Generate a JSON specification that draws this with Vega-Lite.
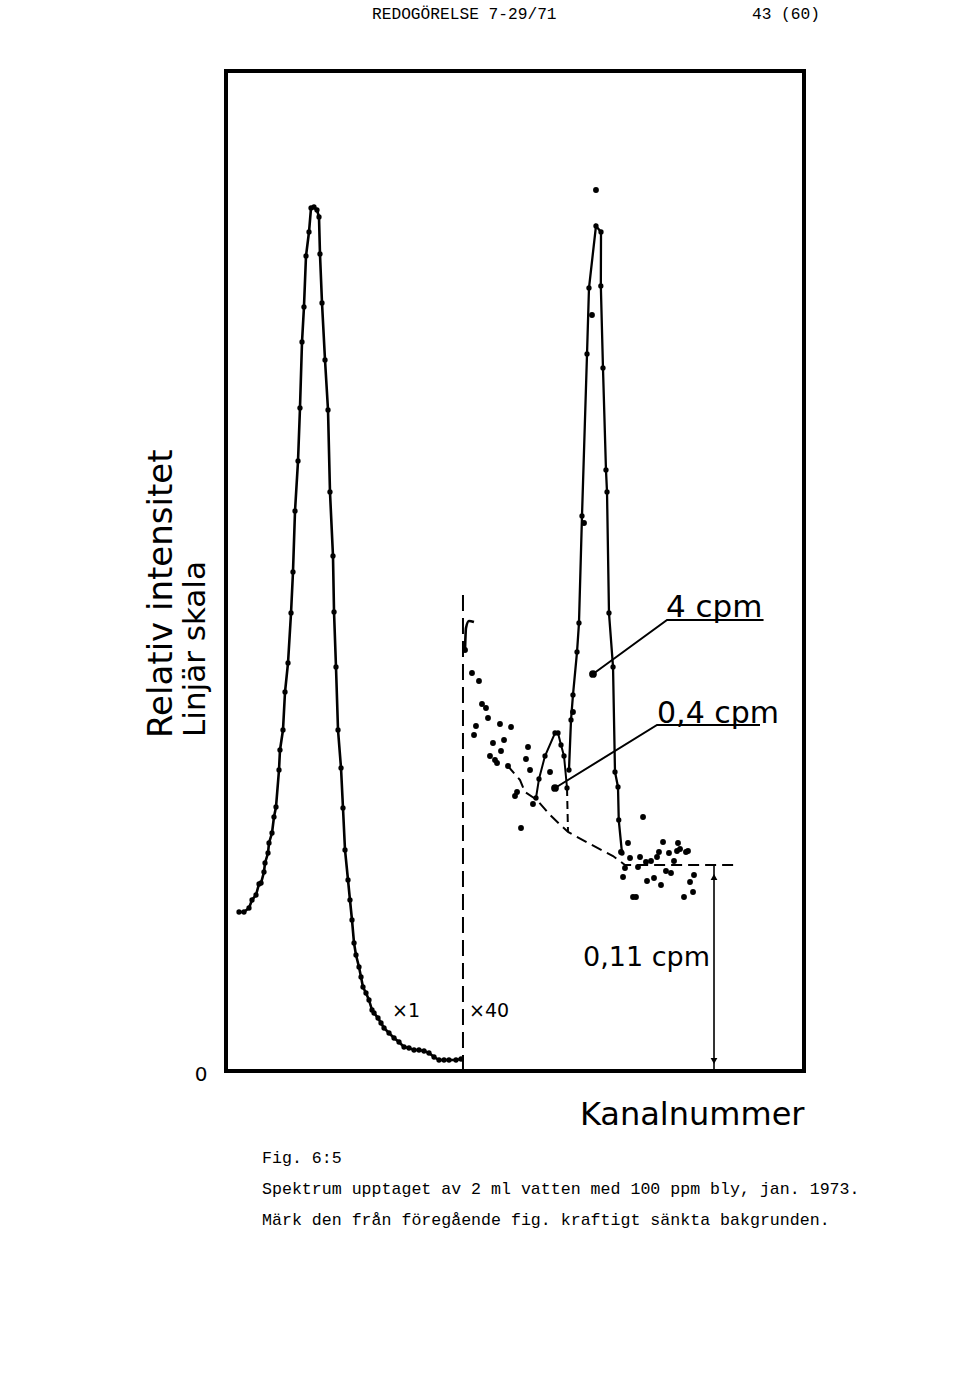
{
  "$schema": "https://vega.github.io/schema/vega-lite/v6.json",
  "autosize": "none",
  "width": 578,
  "height": 1000,
  "padding": {"left": 226, "top": 71, "right": 156, "bottom": 322},
  "background": "white",
  "view": {"stroke": "black", "strokeWidth": 4},
  "config": {"font": "DejaVu Sans"},
  "datasets": {
    "left": [
      {"i":1,"x":2.25,"y":15.9},{"i":2,"x":3.11,"y":15.9},{"i":3,"x":3.98,"y":16.3},{"i":4,"x":4.50,"y":17.1},
      {"i":5,"x":5.19,"y":17.6},{"i":6,"x":5.71,"y":18.7},{"i":7,"x":6.06,"y":18.8},{"i":8,"x":6.57,"y":19.9},
      {"i":9,"x":6.75,"y":20.8},{"i":10,"x":7.27,"y":21.8},{"i":11,"x":7.44,"y":22.8},{"i":12,"x":7.96,"y":23.8},
      {"i":13,"x":8.30,"y":25.4},{"i":14,"x":8.65,"y":26.4},{"i":15,"x":9.17,"y":30.1},{"i":16,"x":9.34,"y":32.1},
      {"i":17,"x":9.86,"y":34.1},{"i":18,"x":10.21,"y":37.9},{"i":19,"x":10.73,"y":40.8},{"i":20,"x":11.25,"y":45.8},
      {"i":21,"x":11.59,"y":49.9},{"i":22,"x":11.94,"y":56.0},{"i":23,"x":12.46,"y":61.0},{"i":24,"x":12.80,"y":66.3},
      {"i":25,"x":13.15,"y":72.9},{"i":26,"x":13.49,"y":76.4},{"i":27,"x":13.84,"y":81.5},{"i":28,"x":14.36,"y":83.9},
      {"i":29,"x":14.71,"y":86.3},{"i":30,"x":15.22,"y":86.4},{"i":31,"x":15.74,"y":86.1},{"i":32,"x":16.09,"y":85.4},
      {"i":33,"x":16.26,"y":81.7},{"i":34,"x":16.61,"y":76.8},{"i":35,"x":17.13,"y":71.1},{"i":36,"x":17.65,"y":66.1},
      {"i":37,"x":17.99,"y":57.9},{"i":38,"x":18.51,"y":51.5},{"i":39,"x":18.69,"y":45.9},{"i":40,"x":19.03,"y":40.4},
      {"i":41,"x":19.38,"y":34.1},{"i":42,"x":19.90,"y":30.3},{"i":43,"x":20.24,"y":26.3},{"i":44,"x":20.59,"y":22.1},
      {"i":45,"x":21.11,"y":19.1},{"i":46,"x":21.45,"y":17.1},{"i":47,"x":21.80,"y":15.1},{"i":48,"x":22.15,"y":12.8},
      {"i":49,"x":22.49,"y":11.6},{"i":50,"x":23.01,"y":10.4},{"i":51,"x":23.36,"y":9.4},{"i":52,"x":23.70,"y":8.4},
      {"i":53,"x":24.22,"y":7.8},{"i":54,"x":24.74,"y":7.1},{"i":55,"x":25.26,"y":6.1},{"i":56,"x":25.61,"y":5.8},
      {"i":57,"x":26.30,"y":5.3},{"i":58,"x":26.82,"y":4.8},{"i":59,"x":27.34,"y":4.3},{"i":60,"x":28.20,"y":3.8},
      {"i":61,"x":29.07,"y":3.3},{"i":62,"x":29.93,"y":2.9},{"i":63,"x":30.80,"y":2.4},{"i":64,"x":31.66,"y":2.3},
      {"i":65,"x":32.53,"y":2.1},{"i":66,"x":33.39,"y":2.1},{"i":67,"x":34.26,"y":2.0},{"i":68,"x":35.12,"y":1.8},
      {"i":69,"x":35.99,"y":1.4},{"i":70,"x":36.85,"y":1.1},{"i":71,"x":37.72,"y":1.1},{"i":72,"x":38.58,"y":1.1},
      {"i":73,"x":39.79,"y":1.1},{"i":74,"x":40.66,"y":1.2}
    ],
    "hook": [
      {"i":1,"x":41.35,"y":42.1},{"i":2,"x":41.52,"y":44.3},{"i":3,"x":42.04,"y":45.0},{"i":4,"x":42.9,"y":44.9}
    ],
    "rightpeak": [
      {"i":1,"x":59.34,"y":30.1},{"i":2,"x":59.69,"y":35.1},{"i":3,"x":60.03,"y":37.6},{"i":4,"x":60.73,"y":41.9},
      {"i":5,"x":61.07,"y":44.8},{"i":6,"x":61.59,"y":55.5},{"i":7,"x":62.46,"y":71.7},{"i":8,"x":62.80,"y":78.3},
      {"i":9,"x":64.01,"y":84.5},{"i":10,"x":64.88,"y":83.9},{"i":11,"x":64.85,"y":78.5},{"i":12,"x":65.22,"y":70.3},
      {"i":13,"x":65.74,"y":60.1},{"i":14,"x":65.92,"y":57.9},{"i":15,"x":66.26,"y":45.8},{"i":16,"x":66.96,"y":40.4},
      {"i":17,"x":67.3,"y":29.9},{"i":18,"x":67.82,"y":28.4},{"i":19,"x":67.95,"y":25.1},{"i":20,"x":68.51,"y":21.8}
    ],
    "smallpeak": [
      {"i":1,"x":53.63,"y":27.3},{"i":2,"x":54.15,"y":29.2},{"i":3,"x":55.19,"y":31.5},{"i":4,"x":56.92,"y":33.8},
      {"i":5,"x":57.44,"y":33.8},{"i":6,"x":57.96,"y":32.6},{"i":7,"x":58.48,"y":31.5},{"i":8,"x":59.0,"y":28.3}
    ],
    "scatter": [
      {"x":41.35,"y":42.1},{"x":42.56,"y":39.8},{"x":43.77,"y":39.0},{"x":44.29,"y":36.7},{"x":44.98,"y":36.3},
      {"x":45.33,"y":35.3},{"x":43.25,"y":34.5},{"x":42.91,"y":33.6},{"x":47.40,"y":34.7},{"x":49.31,"y":34.4},
      {"x":46.19,"y":32.8},{"x":48.10,"y":33.1},{"x":45.67,"y":31.5},{"x":47.58,"y":32.0},{"x":46.54,"y":31.1},
      {"x":46.89,"y":30.8},{"x":48.79,"y":30.5},{"x":52.25,"y":32.4},{"x":51.90,"y":31.2},{"x":52.60,"y":30.1},
      {"x":50.35,"y":27.9},{"x":50.00,"y":27.5},{"x":51.04,"y":24.3},{"x":53.11,"y":26.7},{"x":56.06,"y":29.9},
      {"x":63.32,"y":75.6},{"x":61.94,"y":54.8},{"x":60.03,"y":35.9},{"x":64.01,"y":88.1},{"x":72.15,"y":25.4},
      {"x":69.55,"y":22.8},{"x":68.34,"y":21.9},{"x":69.90,"y":21.3},{"x":71.63,"y":21.4},{"x":75.61,"y":22.9},
      {"x":78.20,"y":22.8},{"x":74.91,"y":21.9},{"x":76.64,"y":21.8},{"x":78.03,"y":22.0},{"x":78.55,"y":22.2},
      {"x":79.58,"y":21.9},{"x":79.93,"y":22.0},{"x":74.57,"y":21.4},{"x":72.66,"y":20.9},{"x":73.53,"y":21.0},
      {"x":71.28,"y":20.4},{"x":77.51,"y":21.0},{"x":69.03,"y":20.3},{"x":68.69,"y":19.4},{"x":72.84,"y":19.0},
      {"x":74.05,"y":19.3},{"x":75.26,"y":18.6},{"x":76.12,"y":20.0},{"x":76.99,"y":19.8},{"x":80.28,"y":18.9},
      {"x":80.97,"y":19.6},{"x":80.80,"y":17.9},{"x":79.24,"y":17.4},{"x":70.42,"y":17.4},{"x":70.93,"y":17.4}
    ],
    "background": [
      {"i":1,"x":48.62,"y":30.6},{"i":2,"x":50.87,"y":29.1},{"i":3,"x":51.73,"y":27.9},{"i":4,"x":53.81,"y":27.1},
      {"i":5,"x":56.06,"y":25.6},{"i":6,"x":59.17,"y":23.9},{"i":7,"x":62.98,"y":22.7},{"i":8,"x":66.96,"y":21.5},
      {"i":9,"x":69.03,"y":20.6},{"i":10,"x":88.06,"y":20.6}
    ],
    "ptr4": [
      {"i":1,"x":63.49,"y":39.7},{"i":2,"x":76.30,"y":45.1},{"i":3,"x":93.0,"y":45.1}
    ],
    "ptr04": [
      {"i":1,"x":56.92,"y":28.3},{"i":2,"x":74.57,"y":34.6},{"i":3,"x":92.39,"y":34.6}
    ]
  },
  "layer": [
    {
      "data": {"values": [{"x": 41.0, "y": 0, "y2": 47.6}]},
      "mark": {"type": "rule", "strokeDash": [16, 7], "strokeWidth": 2, "color": "black"},
      "encoding": {
        "x": {"field": "x", "type": "quantitative", "scale": {"domain": [0, 100], "nice": false, "zero": false},
              "axis": {"title": "Kanalnummer", "labels": false, "ticks": false, "domain": false, "grid": false,
                       "titleAnchor": "end", "titleFont": "DejaVu Sans", "titleFontSize": 32, "titleFontWeight": "normal",
                       "titleColor": "black", "titlePadding": 28}},
        "y": {"field": "y", "type": "quantitative", "scale": {"domain": [0, 100], "nice": false, "zero": false},
              "axis": {"title": null, "values": [0], "ticks": false, "domain": false, "grid": false,
                       "labelFontSize": 20, "labelColor": "black", "labelPadding": 19, "labelFont": "DejaVu Sans",
                       "labelOffset": 3}},
        "y2": {"field": "y2"}
      }
    },
    {
      "data": {"values": [{"x": 59.0, "y": 28.3, "x2": 59.17, "y2": 23.9}]},
      "mark": {"type": "rule", "strokeDash": [8, 5], "strokeWidth": 2, "color": "black"},
      "encoding": {
        "x": {"field": "x", "type": "quantitative"}, "y": {"field": "y", "type": "quantitative"},
        "x2": {"field": "x2"}, "y2": {"field": "y2"}
      }
    },
    {
      "data": {"name": "background"},
      "mark": {"type": "line", "strokeDash": [11, 6], "strokeWidth": 2, "color": "black"},
      "encoding": {
        "x": {"field": "x", "type": "quantitative"}, "y": {"field": "y", "type": "quantitative"},
        "order": {"field": "i", "type": "quantitative"}
      }
    },
    {
      "data": {"name": "left"},
      "mark": {"type": "line", "strokeWidth": 2.6, "color": "black", "point": {"filled": true, "size": 28, "color": "black"}},
      "encoding": {
        "x": {"field": "x", "type": "quantitative"}, "y": {"field": "y", "type": "quantitative"},
        "order": {"field": "i", "type": "quantitative"}
      }
    },
    {
      "data": {"name": "hook"},
      "mark": {"type": "line", "strokeWidth": 2.6, "color": "black", "interpolate": "monotone"},
      "encoding": {
        "x": {"field": "x", "type": "quantitative"}, "y": {"field": "y", "type": "quantitative"},
        "order": {"field": "i", "type": "quantitative"}
      }
    },
    {
      "data": {"name": "rightpeak"},
      "mark": {"type": "line", "strokeWidth": 2.3, "color": "black", "point": {"filled": true, "size": 28, "color": "black"}},
      "encoding": {
        "x": {"field": "x", "type": "quantitative"}, "y": {"field": "y", "type": "quantitative"},
        "order": {"field": "i", "type": "quantitative"}
      }
    },
    {
      "data": {"name": "smallpeak"},
      "mark": {"type": "line", "strokeWidth": 2, "color": "black", "point": {"filled": true, "size": 28, "color": "black"}},
      "encoding": {
        "x": {"field": "x", "type": "quantitative"}, "y": {"field": "y", "type": "quantitative"},
        "order": {"field": "i", "type": "quantitative"}
      }
    },
    {
      "data": {"name": "scatter"},
      "mark": {"type": "point", "filled": true, "size": 34, "color": "black", "opacity": 1},
      "encoding": {
        "x": {"field": "x", "type": "quantitative"}, "y": {"field": "y", "type": "quantitative"}
      }
    },
    {
      "data": {"name": "ptr4"},
      "mark": {"type": "line", "strokeWidth": 2, "color": "black"},
      "encoding": {
        "x": {"field": "x", "type": "quantitative"}, "y": {"field": "y", "type": "quantitative"},
        "order": {"field": "i", "type": "quantitative"}
      }
    },
    {
      "data": {"name": "ptr04"},
      "mark": {"type": "line", "strokeWidth": 2, "color": "black"},
      "encoding": {
        "x": {"field": "x", "type": "quantitative"}, "y": {"field": "y", "type": "quantitative"},
        "order": {"field": "i", "type": "quantitative"}
      }
    },
    {
      "data": {"values": [{"x": 63.49, "y": 39.7}, {"x": 56.92, "y": 28.3}]},
      "mark": {"type": "point", "filled": true, "size": 60, "color": "black", "opacity": 1},
      "encoding": {
        "x": {"field": "x", "type": "quantitative"}, "y": {"field": "y", "type": "quantitative"}
      }
    },
    {
      "data": {"values": [{"x": 84.43, "y": 0, "y2": 20.6}]},
      "mark": {"type": "rule", "strokeWidth": 1.6, "color": "black"},
      "encoding": {
        "x": {"field": "x", "type": "quantitative"}, "y": {"field": "y", "type": "quantitative"}, "y2": {"field": "y2"}
      }
    },
    {
      "data": {"values": [{"x": 84.43, "y": 19.4}]},
      "mark": {"type": "point", "shape": "triangle-up", "filled": true, "size": 45, "color": "black", "opacity": 1},
      "encoding": {
        "x": {"field": "x", "type": "quantitative"}, "y": {"field": "y", "type": "quantitative"}
      }
    },
    {
      "data": {"values": [{"x": 84.43, "y": 1.0}]},
      "mark": {"type": "point", "shape": "triangle-down", "filled": true, "size": 45, "color": "black", "opacity": 1},
      "encoding": {
        "x": {"field": "x", "type": "quantitative"}, "y": {"field": "y", "type": "quantitative"}
      }
    },
    {
      "data": {"values": [{"x": 76.12, "y": 45.4, "t": "4 cpm"}]},
      "mark": {"type": "text", "align": "left", "baseline": "alphabetic", "fontSize": 31, "font": "DejaVu Sans", "color": "black"},
      "encoding": {
        "x": {"field": "x", "type": "quantitative"}, "y": {"field": "y", "type": "quantitative"}, "text": {"field": "t"}
      }
    },
    {
      "data": {"values": [{"x": 74.57, "y": 34.8, "t": "0,4  cpm"}]},
      "mark": {"type": "text", "align": "left", "baseline": "alphabetic", "fontSize": 30, "font": "DejaVu Sans", "color": "black"},
      "encoding": {
        "x": {"field": "x", "type": "quantitative"}, "y": {"field": "y", "type": "quantitative"}, "text": {"field": "t"}
      }
    },
    {
      "data": {"values": [{"x": 61.76, "y": 10.5, "t": "0,11 cpm"}]},
      "mark": {"type": "text", "align": "left", "baseline": "alphabetic", "fontSize": 27, "font": "DejaVu Sans", "color": "black"},
      "encoding": {
        "x": {"field": "x", "type": "quantitative"}, "y": {"field": "y", "type": "quantitative"}, "text": {"field": "t"}
      }
    },
    {
      "data": {"values": [{"x": 28.72, "y": 5.4, "t": "×1"}, {"x": 42.04, "y": 5.4, "t": "×40"}]},
      "mark": {"type": "text", "align": "left", "baseline": "alphabetic", "fontSize": 19, "font": "DejaVu Sans", "fontWeight": "normal", "color": "black"},
      "encoding": {
        "x": {"field": "x", "type": "quantitative"}, "y": {"field": "y", "type": "quantitative"}, "text": {"field": "t"}
      }
    },
    {
      "data": {"values": [{"x": -9.34, "y": 33.3, "t": "Relativ intensitet"}]},
      "mark": {"type": "text", "align": "left", "baseline": "alphabetic", "angle": 270, "fontSize": 34, "font": "DejaVu Sans", "color": "black"},
      "encoding": {
        "x": {"field": "x", "type": "quantitative"}, "y": {"field": "y", "type": "quantitative"}, "text": {"field": "t"}
      }
    },
    {
      "data": {"values": [{"x": -3.63, "y": 33.4, "t": "Linjär skala"}]},
      "mark": {"type": "text", "align": "left", "baseline": "alphabetic", "angle": 270, "fontSize": 31, "font": "DejaVu Sans", "color": "black"},
      "encoding": {
        "x": {"field": "x", "type": "quantitative"}, "y": {"field": "y", "type": "quantitative"}, "text": {"field": "t"}
      }
    },
    {
      "data": {"values": [{"x": 25.26, "y": 105.7, "t": "REDOGÖRELSE 7-29/71"}, {"x": 91.0, "y": 105.7, "t": "43 (60)"}]},
      "mark": {"type": "text", "align": "left", "baseline": "middle", "fontSize": 16.2, "font": "Liberation Mono", "color": "black"},
      "encoding": {
        "x": {"field": "x", "type": "quantitative"}, "y": {"field": "y", "type": "quantitative"}, "text": {"field": "t"}
      }
    },
    {
      "data": {"values": [
        {"x": 6.23, "y": -8.7, "t": "Fig. 6:5"},
        {"x": 6.23, "y": -11.8, "t": "Spektrum upptaget av 2 ml vatten med 100 ppm bly, jan. 1973."},
        {"x": 6.23, "y": -14.9, "t": "Märk den från föregående fig. kraftigt sänkta bakgrunden."}
      ]},
      "mark": {"type": "text", "align": "left", "baseline": "middle", "fontSize": 16.6, "font": "Liberation Mono", "color": "black"},
      "encoding": {
        "x": {"field": "x", "type": "quantitative"}, "y": {"field": "y", "type": "quantitative"}, "text": {"field": "t"}
      }
    }
  ]
}
